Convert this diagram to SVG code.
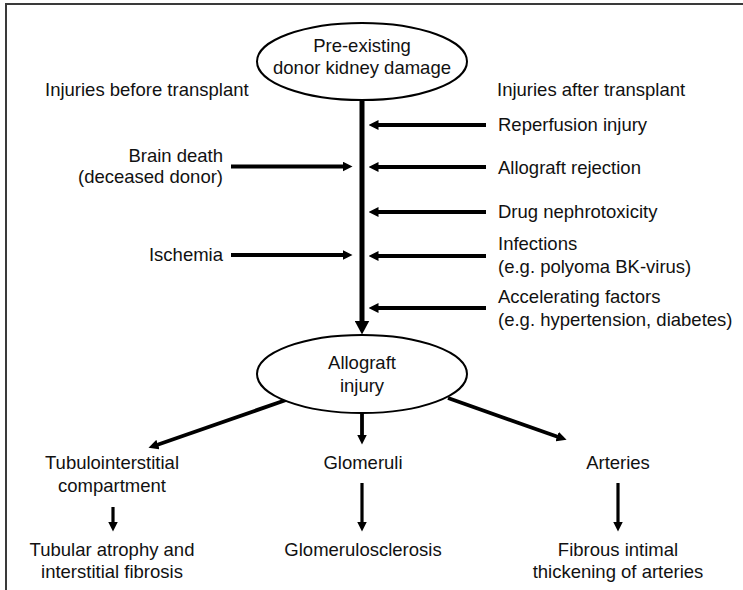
<svg xmlns="http://www.w3.org/2000/svg" width="743" height="590" viewBox="0 0 743 590">
<style>
text{font-family:"Liberation Sans",Arial,Helvetica,sans-serif;font-size:18.5px;fill:#111}
.c{text-anchor:middle}
.r{text-anchor:end}
.node ellipse{fill:#fff;stroke:#000;stroke-width:2}
.conn line{stroke:#000;stroke-width:3.8;fill:none}
.frame{stroke:#3a3a3a;stroke-width:2;fill:none}
</style>
<defs>
<marker id="ah" markerUnits="userSpaceOnUse" markerWidth="10" markerHeight="10" viewBox="0 0 10 10" refX="0.5" refY="5" orient="auto"><path d="M0,0 L10,5 L0,10 z" fill="#000"/></marker>
<marker id="ahB" markerUnits="userSpaceOnUse" markerWidth="14" markerHeight="15" viewBox="0 0 14 15" refX="0.5" refY="7.5" orient="auto"><path d="M0,0 L14,7.5 L0,15 z" fill="#000"/></marker>
</defs>
<rect width="743" height="590" fill="#fff"/>
<path class="frame" d="M6,590 V4 H743"/>

<g id="conns" class="conn">
<line x1="362" y1="100" x2="362" y2="321" style="stroke-width:5" marker-end="url(#ahB)"/>
<line x1="231" y1="166.5" x2="343" y2="166.5" marker-end="url(#ah)"/>
<line x1="231" y1="255" x2="343" y2="255" marker-end="url(#ah)"/>
<line x1="486" y1="125" x2="378" y2="125" marker-end="url(#ah)"/>
<line x1="486" y1="167" x2="378" y2="167" marker-end="url(#ah)"/>
<line x1="486" y1="212" x2="378" y2="212" marker-end="url(#ah)"/>
<line x1="486" y1="256" x2="378" y2="256" marker-end="url(#ah)"/>
<line x1="486" y1="308" x2="378" y2="308" marker-end="url(#ah)"/>
<line x1="286" y1="400" x2="157.5" y2="444.7" marker-end="url(#ah)"/>
<line x1="362" y1="413" x2="362" y2="435" marker-end="url(#ah)"/>
<line x1="448" y1="398" x2="557.6" y2="436.7" marker-end="url(#ah)"/>
<line x1="113" y1="507" x2="113" y2="522" style="stroke-width:3.2" marker-end="url(#ah)"/>
<line x1="362" y1="483" x2="362" y2="522" style="stroke-width:3.2" marker-end="url(#ah)"/>
<line x1="618" y1="483" x2="618" y2="522" style="stroke-width:3.2" marker-end="url(#ah)"/>
</g>

<g id="pre-existing" class="node">
<ellipse cx="362" cy="61.5" rx="105" ry="38.5"/>
<text class="c" x="362" y="52">Pre-existing</text>
<text class="c" x="362" y="74">donor kidney damage</text>
</g>

<g id="before-label"><text x="45" y="96">Injuries before transplant</text></g>
<g id="after-label"><text x="497" y="96">Injuries after transplant</text></g>

<g id="brain-death">
<text class="r" x="223" y="162">Brain death</text>
<text class="r" x="223" y="183">(deceased donor)</text>
</g>
<g id="ischemia"><text class="r" x="223" y="261">Ischemia</text></g>

<g id="reperfusion"><text x="498" y="131">Reperfusion injury</text></g>
<g id="rejection"><text x="498" y="174">Allograft rejection</text></g>
<g id="drug"><text x="498" y="218">Drug nephrotoxicity</text></g>
<g id="infections">
<text x="498" y="250">Infections</text>
<text x="498" y="273">(e.g. polyoma BK-virus)</text>
</g>
<g id="accelerating">
<text x="498" y="303">Accelerating factors</text>
<text x="498" y="326">(e.g. hypertension, diabetes)</text>
</g>

<g id="allograft-injury" class="node">
<ellipse cx="362" cy="374" rx="105" ry="39"/>
<text class="c" x="362" y="369">Allograft</text>
<text class="c" x="362" y="392">injury</text>
</g>

<g id="tubulo">
<text class="c" x="112" y="469">Tubulointerstitial</text>
<text class="c" x="112" y="492">compartment</text>
</g>
<g id="glomeruli"><text class="c" x="363" y="469">Glomeruli</text></g>
<g id="arteries"><text class="c" x="618" y="469">Arteries</text></g>

<g id="tubular-atrophy">
<text class="c" x="112" y="556">Tubular atrophy and</text>
<text class="c" x="112" y="578">interstitial fibrosis</text>
</g>
<g id="glomerulosclerosis"><text class="c" x="363" y="556">Glomerulosclerosis</text></g>
<g id="fibrous">
<text class="c" x="618" y="556">Fibrous intimal</text>
<text class="c" x="618" y="578">thickening of arteries</text>
</g>
</svg>
